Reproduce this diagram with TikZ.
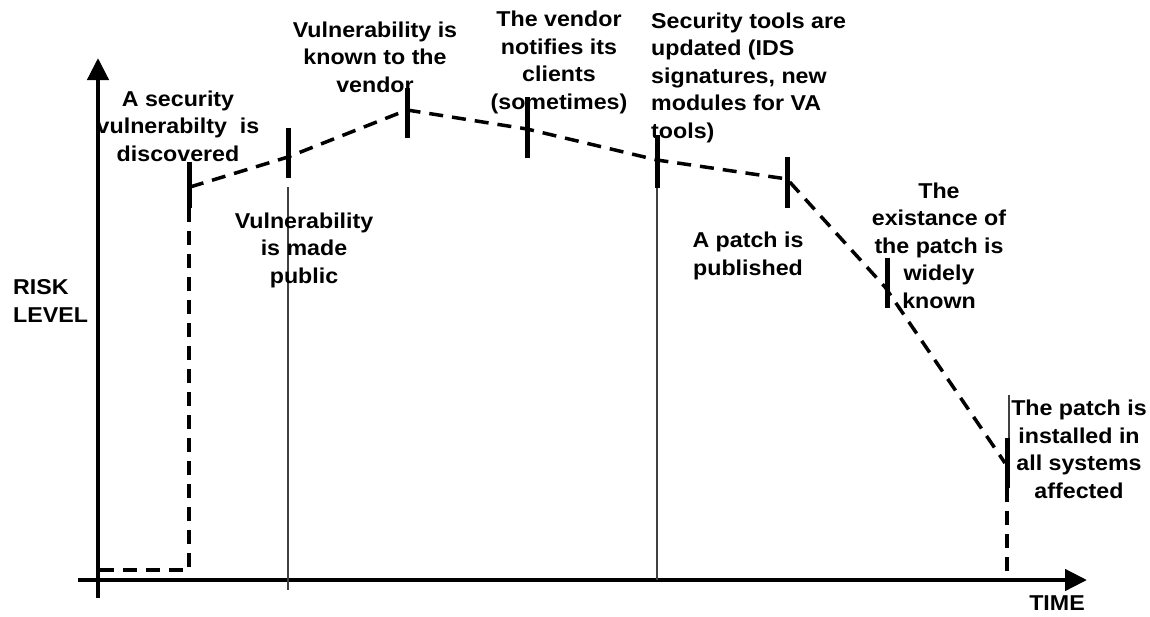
\documentclass[tikz,border=0pt]{standalone}
\usepackage{fontspec}
\setmainfont[FakeStretch=1.08]{Liberation Sans}
\usetikzlibrary{arrows.meta}
\tikzset{
  axis/.style={line width=4.5pt, -{Triangle[length=22pt,width=21pt]}},
  riskline/.style={line width=3.5pt, dash pattern=on 14pt off 9pt},
  tickmark/.style={line width=5pt},
  thinline/.style={line width=1.2pt, black!75},
  lbl/.style={inner sep=0pt, anchor=base, align=center, font=\bfseries\fontsize{21.5}{27.5}\selectfont},
  lbll/.style={lbl, align=left, anchor=base west}
}
\begin{document}
\begin{tikzpicture}[x=1pt,y=-1pt]
\useasboundingbox (0,0) rectangle (1150,616);
% axes
\coordinate (ybot) at (98,598);
\coordinate (ytop) at (98,58);
\coordinate (xleft) at (78,580);
\coordinate (xright) at (1087,580);
\draw[axis] (ybot) -- (ytop);
\draw[axis] (xleft) -- (xright);
% curve points
\coordinate (p0) at (100,570);
\coordinate (c0) at (189,570);
\coordinate (t1b) at (189,208);
\coordinate (p1) at (190,187);
\coordinate (p2) at (288,157);
\coordinate (p3) at (407,110);
\coordinate (p4) at (527,129);
\coordinate (p5) at (657,160);
\coordinate (p6) at (787,179);
\coordinate (p7) at (885,287);
\coordinate (p8) at (1005,463);
\coordinate (t8b) at (1007,488);
\coordinate (t8x) at (1007,578);
\draw[riskline] (p0) -- (c0) -- (t1b);
\draw[riskline] (p1) -- (p2) -- (p3) -- (p4) -- (p5) -- (p6) -- (p7) -- (p8);
\draw[riskline] (t8b) -- (t8x);
% ticks
\foreach \x/\a/\b [count=\i] in {189/162/208, 288/128/178, 407/88/138, 527/97/158, 657/135/188, 787/157/208, 887/258/308, 1007/438/488}{
  \coordinate (ta\i) at (\x,\a);
  \coordinate (tb\i) at (\x,\b);
  \draw[tickmark] (ta\i) -- (tb\i);
}
% thin lines
\coordinate (v2a) at (288,187);
\coordinate (v2b) at (288,590);
\coordinate (v5a) at (657,188);
\coordinate (v5b) at (657,580);
\coordinate (v8a) at (1009,395);
\coordinate (v8b) at (1009,438);
\draw[thinline] (v2a) -- (v2b);
\draw[thinline] (v5a) -- (v5b);
\draw[thinline] (v8a) -- (v8b);
% labels (anchor = baseline of last line)
\node[lbl] (l1) at (178,161) {A security\\vulnerabilty\ \ is\\discovered};
\node[lbl] (l2) at (304,283) {Vulnerability\\is made\\public};
\node[lbl] (l3) at (375,92) {Vulnerability is\\known to the\\vendor};
\node[lbl] (l4) at (559,109) {The vendor\\notifies its\\clients\\(sometimes)};
\node[lbll] (l5) at (651,138) {Security tools are\\updated (IDS\\signatures, new\\modules for VA\\tools)};
\node[lbl] (l6) at (748,275) {A patch is\\published};
\node[lbl] (l7) at (939,308) {The\\existance of\\the patch is\\widely\\known};
\node[lbl] (l8) at (1079,498) {The patch is\\installed in\\all systems\\affected};
\node[lbll] (l9) at (13,322) {RISK\\LEVEL};
\node[lbl] (l10) at (1057,610) {TIME};
\end{tikzpicture}
\end{document}
